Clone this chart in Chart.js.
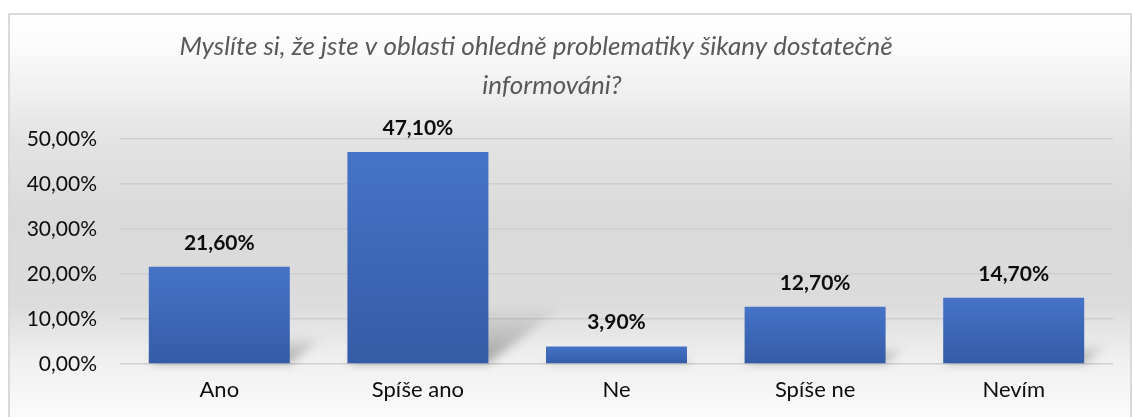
<!DOCTYPE html>
<html>
<head>
<meta charset="utf-8">
<script src="https://cdn.jsdelivr.net/npm/chart.js@4"></script>
<style>
html,body{margin:0;padding:0;background:#fff;}
#wrap{width:1132px;height:417px;position:relative;}
</style>
</head>
<body>
<div id="wrap"><canvas id="c" width="1132" height="417"></canvas></div>
<script>
const titleLines = ['Myslíte si, že jste v oblasti ohledně problematiky šikany dostatečně', 'informováni?'];
const categories = ['Ano', 'Spíše ano', 'Ne', 'Spíše ne', 'Nevím'];
const values = [21.6, 47.1, 3.9, 12.7, 14.7];
const yMin = 0, yMax = 50, yStep = 10;

const fmt = v => v.toFixed(2).replace('.', ',') + '%';
const FONT = 'Lato, "Open Sans", sans-serif';

const bgPlugin = {
  id: 'bg',
  beforeDraw(chart) {
    const ctx = chart.ctx;
    ctx.save();
    ctx.fillStyle = '#ffffff';
    ctx.fillRect(0, 0, chart.width, chart.height);
    const g = ctx.createLinearGradient(0, 15, 0, 417);
    g.addColorStop(0, '#ffffff');
    g.addColorStop(0.08, '#fbfbfb');
    g.addColorStop(0.3, '#e4e4e4');
    g.addColorStop(0.5, '#dadada');
    g.addColorStop(0.72, '#dcdcdc');
    g.addColorStop(0.86, '#f0f0f0');
    g.addColorStop(1, '#fbfbfb');
    ctx.fillStyle = g;
    ctx.fillRect(10, 15, chart.width - 11, chart.height - 15);
    ctx.strokeStyle = '#d9d9d9';
    ctx.lineWidth = 2;
    ctx.strokeRect(9, 14, chart.width - 10, chart.height + 10);
    ctx.fillStyle = '#595959';
    ctx.font = 'italic 26px ' + FONT;
    ctx.textAlign = 'center';
    ctx.textBaseline = 'middle';
    ctx.fillText(titleLines[0], 536, 47);
    ctx.fillText(titleLines[1], 552, 86);
    ctx.restore();
  }
};

const shadowPlugin = {
  id: 'shadow',
  beforeDatasetsDraw(chart) {
    const ctx = chart.ctx;
    const meta = chart.getDatasetMeta(0);
    ctx.save();
    ctx.filter = 'blur(5px)';
    meta.data.forEach(el => {
      if (!isFinite(el.y) || !isFinite(el.base)) return;
      const h = el.base - el.y;
      const dx = h * 0.34, dy = h * 0.26;
      const xl = el.x - el.width / 2, xr = el.x + el.width / 2;
      const g = ctx.createLinearGradient(0, el.base, 0, el.base - dy - 1);
      g.addColorStop(0, 'rgba(0,0,0,0.32)');
      g.addColorStop(1, 'rgba(0,0,0,0.02)');
      ctx.fillStyle = g;
      ctx.beginPath();
      ctx.moveTo(xl, el.base);
      ctx.lineTo(xr, el.base);
      ctx.lineTo(xr + dx, el.base - dy);
      ctx.lineTo(xl + dx, el.base - dy);
      ctx.closePath();
      ctx.fill();
    });
    ctx.restore();
  },
  afterDatasetsDraw(chart) {
    const ctx = chart.ctx;
    const meta = chart.getDatasetMeta(0);
    ctx.save();
    ctx.fillStyle = '#0d0d0d';
    ctx.font = 'bold 21px ' + FONT;
    ctx.textAlign = 'center';
    ctx.textBaseline = 'middle';
    meta.data.forEach((el, i) => {
      ctx.fillText(fmt(values[i]), el.x, el.y - 24);
    });
    ctx.restore();
  }
};

new Chart(document.getElementById('c'), {
  type: 'bar',
  data: {
    labels: categories,
    datasets: [{
      data: values,
      backgroundColor(c) {
        const chart = c.chart;
        const ys = chart.scales.y;
        if (!ys || typeof c.raw !== 'number') return '#4472c4';
        const top = ys.getPixelForValue(c.raw);
        const bot = ys.getPixelForValue(0);
        if (!isFinite(top) || !isFinite(bot) || top === bot) return '#4472c4';
        const g = chart.ctx.createLinearGradient(0, top, 0, bot);
        g.addColorStop(0, '#4573c7');
        g.addColorStop(1, '#345ca6');
        return g;
      },
      borderWidth: 0,
      categoryPercentage: 1,
      barPercentage: 0.71
    }]
  },
  options: {
    responsive: false,
    animation: false,
    devicePixelRatio: 1,
    layout: { padding: { top: 139, right: 19, bottom: 0, left: 0 } },
    plugins: { legend: { display: false }, tooltip: { enabled: false }, title: { display: false } },
    scales: {
      x: {
        grid: { display: false, drawTicks: false },
        border: { display: false },
        ticks: { color: '#0d0d0d', font: { family: FONT, size: 22 }, padding: 13 },
        afterFit(s) { s.height = 53; }
      },
      y: {
        min: yMin, max: yMax,
        grid: { color: '#cfcfcf', lineWidth: 1.5, drawTicks: false },
        border: { display: false },
        ticks: { stepSize: yStep, color: '#0d0d0d', font: { family: FONT, size: 21 }, padding: 23,
          callback: v => fmt(v) },
        afterFit(s) { s.width = 120; }
      }
    }
  },
  plugins: [bgPlugin, shadowPlugin]
});
</script>
</body>
</html>
